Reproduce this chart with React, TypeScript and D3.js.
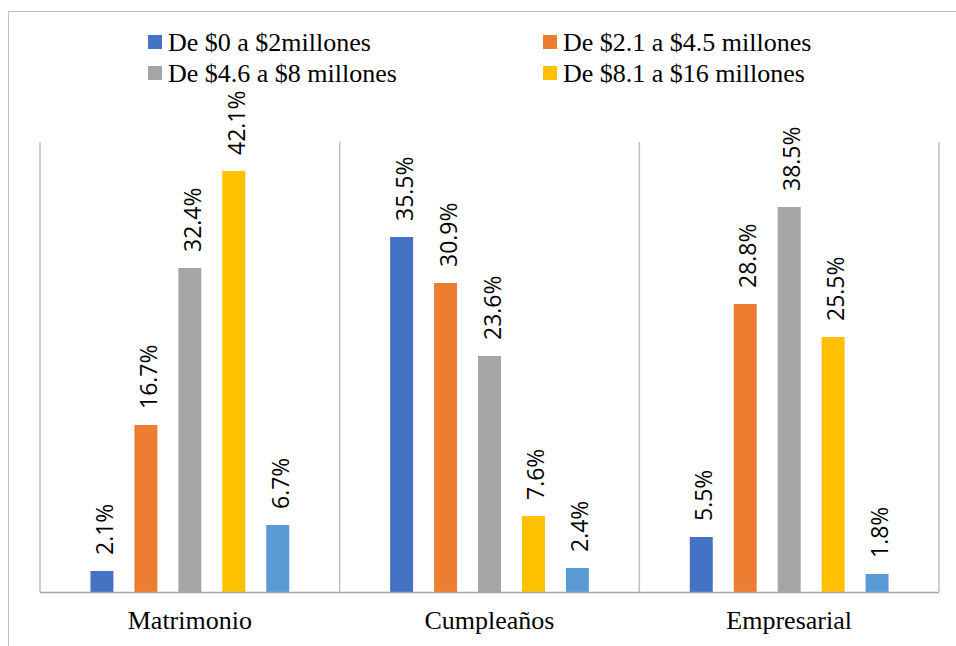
import React from "react";
import * as d3 from "d3";

const categories = ["Matrimonio", "Cumpleaños", "Empresarial"];
const seriesNames = [
  "De $0 a $2millones",
  "De $2.1 a $4.5 millones",
  "De $4.6 a $8 millones",
  "De $8.1 a $16 millones",
  "Más de $16 millones",
];
const legendCount = 4;
const seriesColors = ["#4472C4", "#ED7D31", "#A5A5A5", "#FFC000", "#5B9BD5"];
// values per category (rows) and series (columns), percent
const matrimonio = [2.1, 16.7, 32.4, 42.1, 6.7];
const cumpleanos = [35.5, 30.9, 23.6, 7.6, 2.4];
const empresarial = [5.5, 28.8, 38.5, 25.5, 1.8];
const values = [matrimonio, cumpleanos, empresarial];
const yMax = 45;

export default function App() {
  const W = 956, H = 646;
  const left = 40, right = 939, top = 142, bottom = 592;
  const x0 = d3.scaleBand<string>().domain(categories).range([left, right]).paddingInner(0).paddingOuter(0);
  const x1 = d3
    .scaleBand<number>()
    .domain(d3.range(seriesNames.length))
    .range([0, x0.bandwidth()])
    .paddingInner(21 / 44)
    .paddingOuter(1.148);
  const y = d3.scaleLinear().domain([0, yMax]).range([bottom, top]);
  const fmt = (v: number) => d3.format(".1f")(v) + "%";
  const gridX = [...categories.map((c) => x0(c)!), right];

  const legendPos = [
    { x: 148, y: 42 },
    { x: 543, y: 42 },
    { x: 148, y: 73 },
    { x: 543, y: 73 },
  ];
  const serif = "'Liberation Serif', 'Times New Roman', serif";

  return (
    <svg width={W} height={H} style={{ position: "absolute", left: 0, top: 0, background: "#fff" }}>
      <rect x={8.5} y={11.5} width={W + 10} height={H + 10} fill="#fff" stroke="#BFBFBF" strokeWidth={1} />
      {gridX.map((gx, i) => (
        <line key={i} x1={gx} x2={gx} y1={y(yMax)} y2={bottom} stroke="#BFBFBF" strokeWidth={1.5} />
      ))}
      {categories.map((c, ci) => (
        <g key={c} transform={`translate(${x0(c)},0)`}>
          {values[ci].map((v, si) => (
            <rect
              key={si}
              x={x1(si)}
              y={y(v)}
              width={x1.bandwidth()}
              height={bottom - y(v)}
              fill={seriesColors[si]}
            />
          ))}
          {values[ci].map((v, si) => (
            <text
              key={"t" + si}
              transform={`translate(${x1(si)! + x1.bandwidth() / 2 + 2},${y(v) - 16}) rotate(-90)`}
              textAnchor="start"
              dominantBaseline="central"
              fontFamily="'Open Sans', sans-serif"
              fontSize={23}
              fill="#000"
            >
              {fmt(v)}
            </text>
          ))}
        </g>
      ))}
      <line x1={left} x2={right} y1={bottom + 0.5} y2={bottom + 0.5} stroke="#A6A6A6" strokeWidth={1.5} />
      {categories.map((c) => (
        <text
          key={c}
          x={x0(c)! + x0.bandwidth() / 2}
          y={629}
          textAnchor="middle"
          fontFamily={serif}
          fontSize={26}
          fill="#000"
        >
          {c}
        </text>
      ))}
      {seriesNames.slice(0, legendCount).map((s, i) => (
        <g key={s} transform={`translate(${legendPos[i].x},${legendPos[i].y})`}>
          <rect x={0} y={-7} width={14} height={14} fill={seriesColors[i]} />
          <text x={20} y={0} dominantBaseline="central" fontFamily={serif} fontSize={26} fill="#000">
            {s}
          </text>
        </g>
      ))}
    </svg>
  );
}
